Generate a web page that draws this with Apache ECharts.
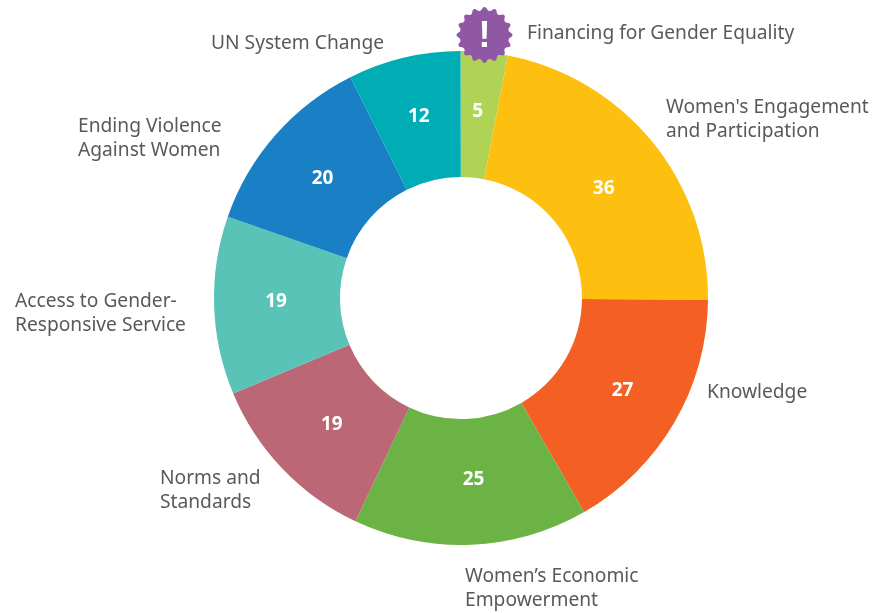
<!DOCTYPE html>
<html>
<head>
  <meta charset="UTF-8">
  <style>
    html, body { margin: 0; padding: 0; background: #fff; }
    #main { width: 884px; height: 613px; }
  </style>
</head>
<body>
  <div id="main"></div>
  <script src="https://cdn.jsdelivr.net/npm/echarts@6/dist/echarts.min.js"></script>
  <script>
    // chart values, clockwise from 12 o'clock
    var categories = [
      'Financing for Gender Equality',
      "Women's Engagement\nand Participation",
      'Knowledge',
      'Women\u2019s Economic\nEmpowerment',
      'Norms and\nStandards',
      'Access to Gender-\nResponsive Service',
      'Ending Violence\nAgainst Women',
      'UN System Change'
    ];
    var values = [5, 36, 27, 25, 19, 19, 20, 12];
    var colors = ['#AFD355', '#FDC010', '#F46023', '#6BB345', '#BC6775', '#58C3B6', '#1A80C6', '#00ADB5'];

    // top-left corner of each outside label
    var labelSpots = [
      [527, 22], [666, 96], [707, 381], [465, 565],
      [160, 467], [15, 290], [78, 115], [211, 32]
    ];
    // small shifts of the numbers inside the ring
    var valueNudges = [
      [-1, 0], [-2, 9], [0, -2], [5, -5],
      [6, -3], [2, -2], [2, 4], [1, 1]
    ];

    var textColor = '#58595B';
    var fontName = '"Noto Sans", sans-serif';

    // badge outline, scalloped star over the first slice
    var badgeX = 484.5, badgeY = 35, badgePoints = [];
    for (var i = 0; i < 32; i++) {
      var r = i % 2 ? 24.5 : 28;
      var a = Math.PI * 2 * i / 32;
      badgePoints.push([badgeX + r * Math.sin(a), badgeY - r * Math.cos(a)]);
    }

    var myChart = echarts.init(document.getElementById('main'));

    myChart.setOption({
      animation: false,
      backgroundColor: '#fff',
      graphic: [
        {
          type: 'polygon',
          z: 100,
          shape: { points: badgePoints, smooth: 0.5 },
          style: { fill: '#9058A4' }
        },
        {
          type: 'text',
          z: 101,
          x: badgeX,
          y: badgeY + 2,
          style: {
            text: '!',
            fill: '#fff',
            font: 'bold 36px "Liberation Sans", sans-serif',
            textAlign: 'center',
            textVerticalAlign: 'middle'
          }
        }
      ],
      series: [
        {
          type: 'pie',
          center: [461, 298],
          radius: [121, 247],
          startAngle: 90.1,
          clockwise: true,
          silent: true,
          data: categories.map(function (name, i) {
            return { name: name, value: values[i], itemStyle: { color: colors[i] } };
          }),
          label: {
            position: 'inside',
            formatter: '{c}',
            color: '#fff',
            fontFamily: fontName,
            fontWeight: 'bold',
            fontSize: 19
          },
          labelLine: { show: false },
          labelLayout: function (params) {
            return {
              dx: valueNudges[params.dataIndex][0],
              dy: valueNudges[params.dataIndex][1]
            };
          }
        },
        {
          // invisible copy, only carries the names outside the ring
          type: 'pie',
          center: [461, 298],
          radius: [121, 247],
          startAngle: 90.1,
          silent: true,
          itemStyle: { color: 'transparent' },
          data: categories.map(function (name, i) {
            return { name: name, value: values[i] };
          }),
          label: {
            position: 'outside',
            formatter: '{b}',
            color: textColor,
            fontFamily: fontName,
            fontSize: 19.2,
            lineHeight: 24,
            align: 'left',
            verticalAlign: 'top',
            overflow: 'none'
          },
          labelLine: { show: false },
          labelLayout: function (params) {
            return {
              x: labelSpots[params.dataIndex][0],
              y: labelSpots[params.dataIndex][1],
              align: 'left',
              verticalAlign: 'top'
            };
          }
        }
      ]
    });
  </script>
</body>
</html>
